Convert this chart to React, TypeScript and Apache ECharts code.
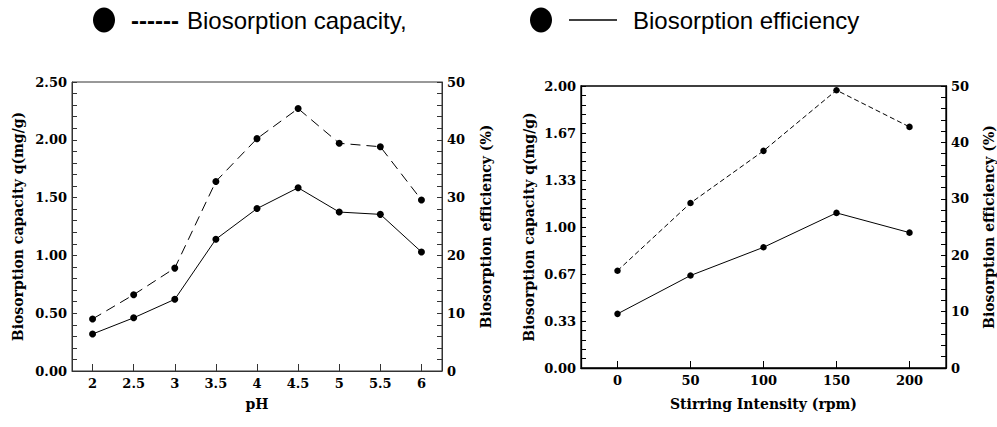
import React, { useEffect, useRef } from 'react';
import * as echarts from 'echarts';

// Left panel: pH
const phCategories = ['2', '2.5', '3', '3.5', '4', '4.5', '5', '5.5', '6'];
const phCapacity = [0.45, 0.66, 0.89, 1.64, 2.01, 2.27, 1.97, 1.94, 1.48];
const phEfficiency = [6.4, 9.2, 12.4, 22.8, 28.1, 31.7, 27.5, 27.1, 20.6];

// Right panel: stirring intensity
const rpmCategories = ['0', '50', '100', '150', '200'];
const rpmCapacity = [0.69, 1.17, 1.54, 1.97, 1.71];
const rpmEfficiency = [9.6, 16.4, 21.4, 27.5, 24.0];

const legendCapacity = 'Biosorption capacity,';
const legendEfficiency = 'Biosorption efficiency';
const capacityName = 'Biosorption capacity q(mg/g)';
const efficiencyName = 'Biosorption efficiency (%)';

const SERIF = '"DejaVu Serif", serif';

function yAxisBase(gridIndex: number, position: 'left' | 'right', min: number, max: number, interval: number, color: string, lineWidth: number, name: string, nameGap: number, fmt?: (v: number) => string) {
  return {
    type: 'value',
    gridIndex,
    position,
    min,
    max,
    interval,
    name,
    nameLocation: 'middle',
    nameRotate: 90,
    nameGap,
    nameTextStyle: { fontFamily: SERIF, fontWeight: 'bold', fontSize: 14, color: '#000' },
    axisLine: { show: true, lineStyle: { color, width: lineWidth } },
    axisTick: { show: true, inside: true, length: 5, lineStyle: { color, width: 1 } },
    minorTick: { show: true, splitNumber: 5, length: 5, lineStyle: { color, width: 1 } },
    splitLine: { show: false },
    minorSplitLine: { show: false },
    axisLabel: {
      fontFamily: SERIF,
      fontWeight: 'bold',
      fontSize: 13,
      color: '#000',
      margin: 5,
      formatter: fmt,
    },
  };
}

function xAxisBase(gridIndex: number, data: string[], color: string, lineWidth: number, name: string, nameGap: number) {
  return {
    type: 'category',
    gridIndex,
    data,
    boundaryGap: true,
    name,
    nameLocation: 'middle',
    nameGap,
    nameTextStyle: { fontFamily: SERIF, fontWeight: 'bold', fontSize: 14, color: '#000' },
    axisLine: { show: true, lineStyle: { color, width: lineWidth } },
    axisTick: { show: true, inside: true, length: 7, alignWithLabel: true, lineStyle: { color, width: 1 } },
    splitLine: { show: false },
    axisLabel: { fontFamily: SERIF, fontWeight: 'bold', fontSize: 13, color: '#000', margin: 6 },
  };
}

function lineSeries(x: number, y: number, data: number[], dash: number[] | 'solid', size: number) {
  return {
    type: 'line',
    xAxisIndex: x,
    yAxisIndex: y,
    data,
    symbol: 'circle',
    symbolSize: size,
    showSymbol: true,
    itemStyle: { color: '#000' },
    lineStyle: { color: '#000', width: 1, type: dash },
    z: 5,
  };
}

export default function App() {
  const ref = useRef<HTMLDivElement>(null);

  useEffect(() => {
    if (!ref.current) return;
    const chart = echarts.init(ref.current, undefined, { renderer: 'svg' });
    const leftColor = '#333';
    const rightColor = '#000';
    chart.setOption({
      animation: false,
      backgroundColor: '#fff',
      grid: [
        { left: 72, top: 82, width: 370, height: 289, show: true, borderColor: leftColor, borderWidth: 1, backgroundColor: 'transparent', containLabel: false },
        { left: 581, top: 86, width: 366, height: 282, show: true, borderColor: rightColor, borderWidth: 1.3, backgroundColor: 'transparent', containLabel: false },
      ],
      xAxis: [
        xAxisBase(0, phCategories, leftColor, 1, 'pH', 26),
        xAxisBase(1, rpmCategories, rightColor, 1.3, 'Stirring Intensity (rpm)', 29),
      ],
      yAxis: [
        yAxisBase(0, 'left', 0, 2.5, 0.5, leftColor, 1, capacityName, 47, (v: number) => v.toFixed(2)),
        yAxisBase(0, 'right', 0, 50, 10, leftColor, 1, efficiencyName, 37),
        yAxisBase(1, 'left', 0, 2, 1 / 3, rightColor, 1.3, capacityName, 45, (v: number) => v.toFixed(2)),
        yAxisBase(1, 'right', 0, 50, 10, rightColor, 1.3, efficiencyName, 36),
      ],
      series: [
        lineSeries(0, 0, phCapacity, [10, 6], 7),
        lineSeries(0, 1, phEfficiency, 'solid', 7),
        lineSeries(1, 2, rpmCapacity, [5, 3], 6.5),
        lineSeries(1, 3, rpmEfficiency, 'solid', 6.5),
      ],
      graphic: [
        { type: 'ellipse', shape: { cx: 104, cy: 20, rx: 11, ry: 12.5 }, style: { fill: '#000' } },
        { type: 'text', x: 131, y: 20, style: { text: '------', fill: '#000', fontFamily: '"Liberation Sans", Arial, sans-serif', fontSize: 24, fontWeight: 'bold', textAlign: 'left', textVerticalAlign: 'middle' } },
        { type: 'text', x: 187, y: 20, style: { text: legendCapacity, fill: '#000', fontFamily: '"Liberation Sans", Arial, sans-serif', fontSize: 24, textAlign: 'left', textVerticalAlign: 'middle' } },
        { type: 'ellipse', shape: { cx: 541, cy: 20, rx: 11, ry: 12.5 }, style: { fill: '#000' } },
        { type: 'line', shape: { x1: 569, y1: 20, x2: 617, y2: 20 }, style: { stroke: '#000', lineWidth: 1.5 } },
        { type: 'text', x: 633, y: 20, style: { text: legendEfficiency, fill: '#000', fontFamily: '"Liberation Sans", Arial, sans-serif', fontSize: 24, textAlign: 'left', textVerticalAlign: 'middle' } },
      ],
    });
    return () => chart.dispose();
  }, []);

  return <div ref={ref} style={{ position: 'absolute', left: 0, top: 0, width: 997, height: 427 }} />;
}
